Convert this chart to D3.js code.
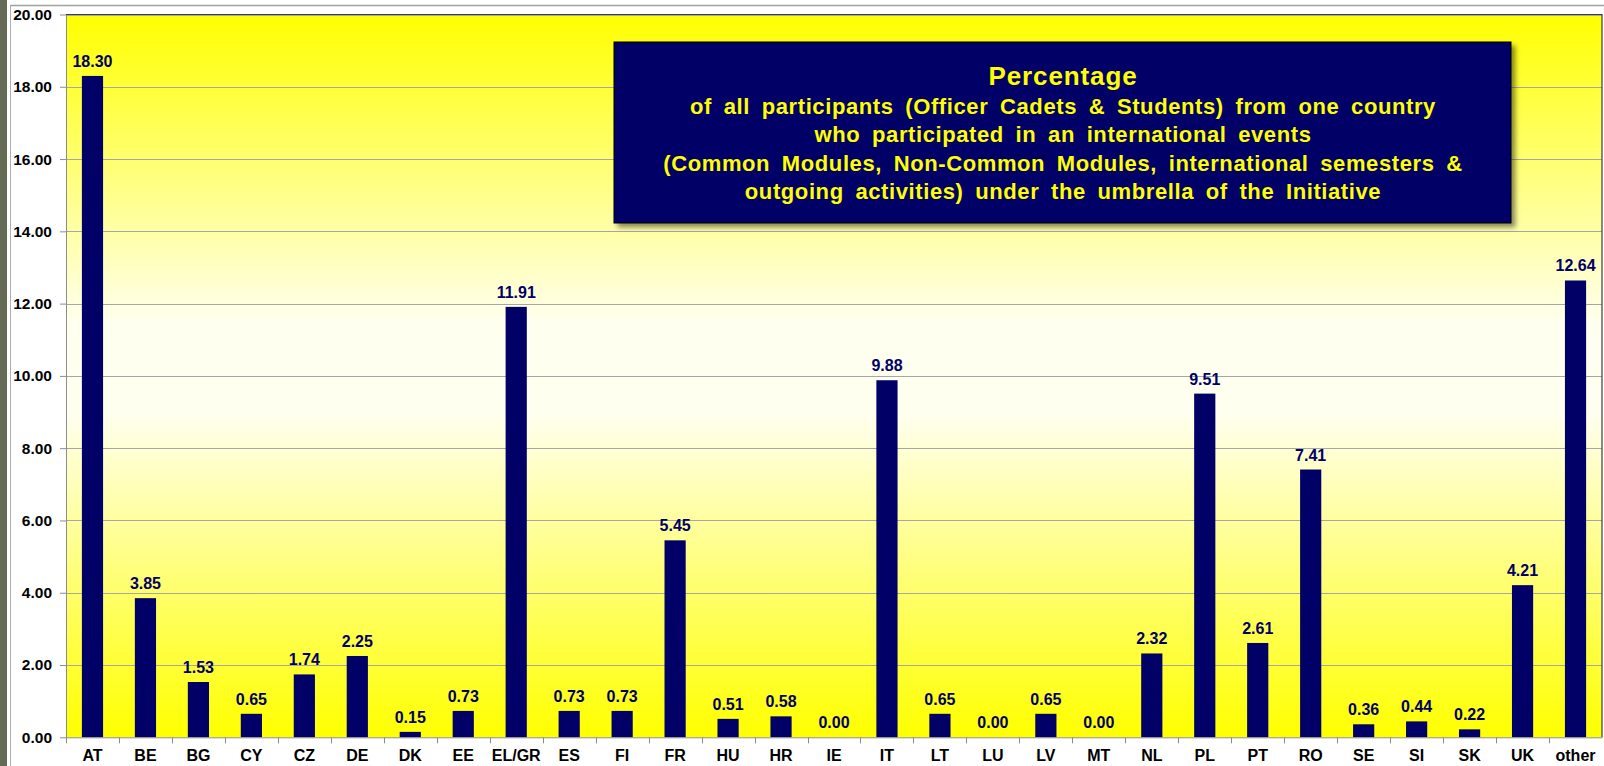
<!DOCTYPE html>
<head>
	<meta charset="utf-8">
	<title>Percentage of participants</title>
	<style>
		body {
			margin: 0;
			background: #fff;
			font-family: 'Liberation Sans', Arial, sans-serif;
		}
		svg { display: block; }
		.axis text {
			font-size: 15.5px;
			font-weight: bold;
			fill: #000;
		}
		.axis.x text {
			font-size: 16px;
		}
		.axis path, .axis line {
			stroke: #8c8c8c;
		}
		.grid line {
			stroke: #a6a6a6;
			stroke-width: 1px;
		}
		.values text {
			font-size: 16px;
			font-weight: bold;
			fill: #000066;
			text-anchor: middle;
		}
		.title text {
			fill: #ffff00;
			font-weight: bold;
			text-anchor: middle;
		}
	</style>
</head>
<body>
<script src="https://d3js.org/d3.v7.min.js"></script>
<script>

// data
var countries = ["AT", "BE", "BG", "CY", "CZ", "DE", "DK", "EE", "EL/GR", "ES", "FI", "FR", "HU", "HR", "IE",
	"IT", "LT", "LU", "LV", "MT", "NL", "PL", "PT", "RO", "SE", "SI", "SK", "UK", "other"];
var percentages = [18.30, 3.85, 1.53, 0.65, 1.74, 2.25, 0.15, 0.73, 11.91, 0.73, 0.73, 5.45, 0.51, 0.58, 0.00,
	9.88, 0.65, 0.00, 0.65, 0.00, 2.32, 9.51, 2.61, 7.41, 0.36, 0.44, 0.22, 4.21, 12.64];
var yTicks = [0, 2, 4, 6, 8, 10, 12, 14, 16, 18, 20];
var titleMain = "Percentage";
var titleLines = [
	"of all participants (Officer Cadets & Students) from one country",
	"who participated in an international events",
	"(Common Modules, Non-Common Modules, international semesters &",
	"outgoing activities) under the umbrella of the Initiative"
];

var width = 1604;
var height = 766;
var plot = {left: 66, right: 1602, top: 14.5, bottom: 737.3};

var data = countries.map(function(c, i) { return {country: c, value: percentages[i]}; });

var svg = d3.select("body")
	.append("svg")
	.attr("width", width)
	.attr("height", height);

var defs = svg.append("defs");

//yellow -> pale -> yellow background of the plot area
var grad = defs.append("linearGradient")
	.attr("id", "bg")
	.attr("x1", 0).attr("y1", 0).attr("x2", 0).attr("y2", 1);
grad.append("stop").attr("offset", "0%").attr("stop-color", "#ffff00");
grad.append("stop").attr("offset", "43%").attr("stop-color", "#fffff0");
grad.append("stop").attr("offset", "55%").attr("stop-color", "#fffff0");
grad.append("stop").attr("offset", "100%").attr("stop-color", "#ffff00");

var shadow = defs.append("filter")
	.attr("id", "shadow")
	.attr("x", "-5%").attr("y", "-5%").attr("width", "115%").attr("height", "130%");
shadow.append("feDropShadow")
	.attr("dx", 4).attr("dy", 4)
	.attr("stdDeviation", 2.5)
	.attr("flood-color", "#000")
	.attr("flood-opacity", 0.45);

// frame of the slide
svg.append("rect")
	.attr("x", 0).attr("y", 0)
	.attr("width", 7).attr("height", height)
	.attr("fill", "#646a56");
svg.append("line")
	.attr("x1", 10.5).attr("y1", 5).attr("x2", 10.5).attr("y2", height)
	.attr("stroke", "#b0b0b0");
svg.append("line")
	.attr("x1", 10.5).attr("y1", 5.5).attr("x2", width).attr("y2", 5.5)
	.attr("stroke", "#a0a0a0").attr("stroke-width", 1.5);

var x = d3.scaleBand()
	.domain(countries)
	.range([plot.left, plot.right])
	.paddingInner(0.6)
	.paddingOuter(0.3);

var y = d3.scaleLinear()
	.domain([0, 20])
	.range([plot.bottom, plot.top]);

svg.append("rect")
	.attr("x", plot.left)
	.attr("y", plot.top)
	.attr("width", plot.right - plot.left)
	.attr("height", plot.bottom - plot.top)
	.attr("fill", "url(#bg)");

svg.append("g")
	.attr("class", "grid")
	.selectAll("line")
	.data(yTicks.slice(1))
	.enter().append("line")
	.attr("x1", plot.left)
	.attr("x2", plot.right)
	.attr("y1", function(d) { return Math.round(y(d)) + 0.5; })
	.attr("y2", function(d) { return Math.round(y(d)) + 0.5; });

// plot border (top and right)
svg.append("path")
	.attr("d", "M" + plot.left + "," + (plot.top) + "H" + plot.right + "V" + plot.bottom)
	.attr("fill", "none")
	.attr("stroke", "#3c3c3c")
	.attr("stroke-width", 1.2);

svg.append("g")
	.attr("class", "bars")
	.selectAll("rect")
	.data(data)
	.enter().append("rect")
	.attr("x", function(d) { return x(d.country); })
	.attr("width", x.bandwidth())
	.attr("y", function(d) { return y(d.value); })
	.attr("height", function(d) { return y(0) - y(d.value); })
	.attr("fill", "#000066");

svg.append("g")
	.attr("class", "values")
	.selectAll("text")
	.data(data)
	.enter().append("text")
	.attr("x", function(d) { return x(d.country) + x.bandwidth() / 2; })
	.attr("y", function(d) { return y(d.value) - 9; })
	.text(function(d) { return d.value.toFixed(2); });

var yAxis = svg.append("g")
	.attr("class", "axis y")
	.attr("transform", "translate(" + plot.left + ",0)")
	.call(d3.axisLeft(y).tickValues(yTicks).tickFormat(d3.format(".2f")).tickSize(6).tickSizeOuter(0).tickPadding(8));

var xAxis = svg.append("g")
	.attr("class", "axis x")
	.attr("transform", "translate(0," + plot.bottom + ")")
	.call(d3.axisBottom(x).tickSize(0).tickSizeOuter(0).tickPadding(12));
xAxis.selectAll("text").attr("dy", "0.71em");

// tick marks between categories
xAxis.selectAll(".sep")
	.data(countries)
	.enter().append("line")
	.attr("class", "sep")
	.attr("x1", function(d) { return Math.round(x(d) - x.step() * x.paddingInner() / 2) + 0.5; })
	.attr("x2", function(d) { return Math.round(x(d) - x.step() * x.paddingInner() / 2) + 0.5; })
	.attr("y1", 0)
	.attr("y2", 6);

// title box
var title = svg.append("g").attr("class", "title");
title.append("rect")
	.attr("x", 614).attr("y", 42)
	.attr("width", 897).attr("height", 181)
	.attr("fill", "#000066")
	.attr("stroke", "#000")
	.attr("filter", "url(#shadow)");

title.append("text")
	.attr("x", 1063).attr("y", 85)
	.attr("font-size", 26)
	.attr("letter-spacing", 0.9)
	.text(titleMain);

title.selectAll(".sub")
	.data(titleLines)
	.enter().append("text")
	.attr("class", "sub")
	.attr("x", 1063)
	.attr("y", function(d, i) { return 114 + i * 28.3; })
	.attr("font-size", 22)
	.attr("letter-spacing", 0.6)
	.attr("word-spacing", 5)
	.text(function(d) { return d; });

</script>
</body>
</html>
